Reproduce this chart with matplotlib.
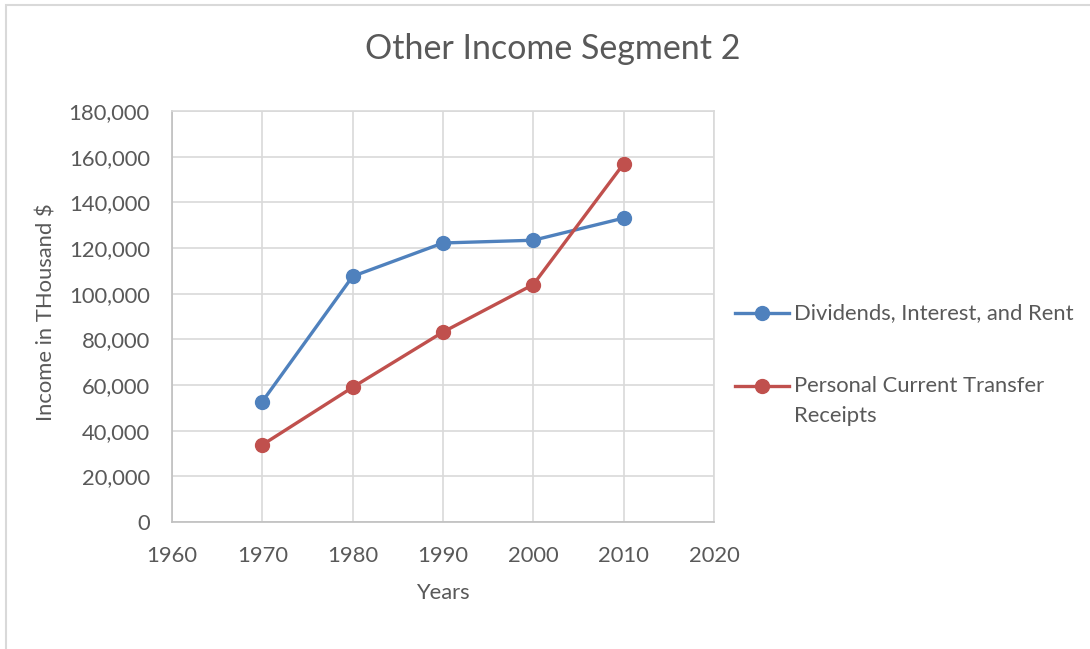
import matplotlib.pyplot as plt
from matplotlib.lines import Line2D
from matplotlib.patches import Rectangle
from matplotlib.ticker import FuncFormatter

# data
years = [1970, 1980, 1990, 2000, 2010]
dividends = [52750, 107600, 122200, 123400, 133100]
transfers = [33800, 59000, 83200, 104000, 156900]
series_labels = ["Dividends, Interest, and Rent", "Personal Current Transfer\nReceipts"]
series_colors = ["#4F81BD", "#C0504D"]

x_ticks = [1960, 1970, 1980, 1990, 2000, 2010, 2020]
y_ticks = [0, 20000, 40000, 60000, 80000, 100000, 120000, 140000, 160000, 180000]

txt = "#595959"
plt.rcParams['font.family'] = ['Lato', 'DejaVu Sans']

W, H = 1090, 649
fig = plt.figure(figsize=(W / 100, H / 100), dpi=100)

def fx(px):
    return px / W

def fy(py):
    return 1 - py / H

# chart area border (behind everything)
fig.add_artist(Rectangle((fx(5.5), -0.1), 1.2, fy(5.5) + 0.1, transform=fig.transFigure,
                         facecolor="white", edgecolor="#D9D9D9", linewidth=1.5,
                         zorder=-5))

ax = fig.add_axes([fx(172), fy(522), fx(714) - fx(172), fy(111) - fy(522)])
ax.set_facecolor("none")

for vals, lab, col in zip([dividends, transfers], series_labels, series_colors):
    ax.plot(years, vals, color=col, linewidth=2.4, marker="o", markersize=10,
            label=lab, zorder=3)

ax.set_xlim(1960, 2020)
ax.set_ylim(0, 180000)
ax.set_xticks(x_ticks)
ax.set_yticks(y_ticks)
ax.yaxis.set_major_formatter(FuncFormatter(lambda v, p: f"{int(v):,}"))
ax.grid(True, color="#D9D9D9", linewidth=1.2)
ax.set_axisbelow(True)
ax.tick_params(length=0, labelsize=15.8, colors=txt)
ax.tick_params(axis="y", pad=16)
ax.tick_params(axis="x", pad=17.5)
for s in ax.spines.values():
    s.set_color("#D9D9D9")
    s.set_linewidth(1.2)
ax.spines["left"].set_color("#BFBFBF")
ax.spines["bottom"].set_color("#BFBFBF")

fig.text(fx(553), fy(49), "Other Income Segment 2", fontsize=24.5, color=txt,
         ha="center", va="center")
fig.text(fx(47), fy(312), "Income in THousand $", fontsize=15.8, color=txt,
         ha="center", va="center", rotation=90)
fig.text(fx(443), fy(593), "Years", fontsize=15.8, color=txt, ha="center", va="center")

# legend drawn by hand so the marker sits on the first text line
leg_y = [313, 386]
for lab, col, yy in zip(series_labels, series_colors, leg_y):
    fig.add_artist(Line2D([fx(735), fx(789)], [fy(yy), fy(yy)], transform=fig.transFigure,
                          color=col, linewidth=2.4))
    fig.add_artist(Line2D([fx(762)], [fy(yy)], transform=fig.transFigure,
                          color=col, marker="o", markersize=10, linestyle="none"))
    fig.text(fx(794), fy(yy - 10), lab, fontsize=15.8, color=txt, ha="left",
             va="top", linespacing=1.65)

fig.savefig("out.png", dpi=100)
